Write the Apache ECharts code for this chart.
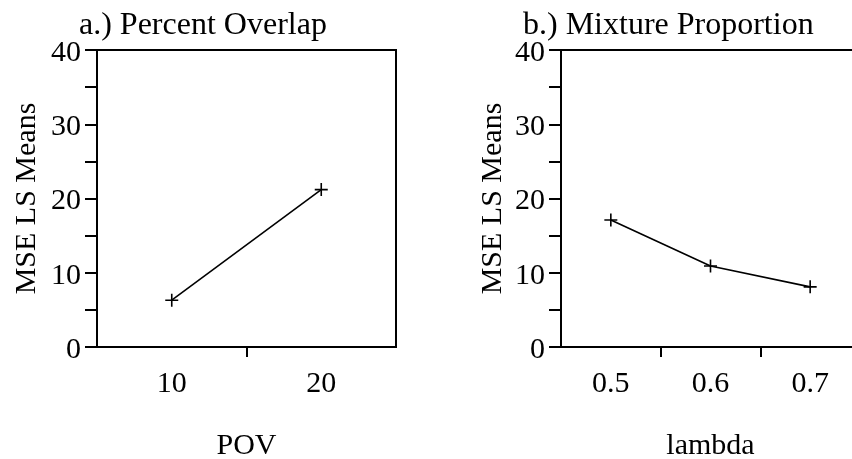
<!DOCTYPE html>
<html>
<head>
<meta charset="utf-8">
<script src="https://cdn.jsdelivr.net/npm/echarts@6/dist/echarts.min.js"></script>
<style>
html,body{margin:0;padding:0;background:#fff;}
#chart{width:852px;height:459px;}
</style>
</head>
<body>
<div id="chart"></div>
<script>
// Panel a: Percent Overlap
const povValues = [10, 20];
const povMSE = [6.3, 21.2];
const povTickLabels = [10, 20];
const povTickMarks = [15];
// Panel b: Mixture Proportion
const lambdaValues = [0.5, 0.6, 0.7];
const lambdaMSE = [17.1, 10.9, 8.1];
const lambdaTickLabels = [0.5, 0.6, 0.7];
const lambdaTickMarks = [0.55, 0.65];
// Y axis
const yTickLabels = [0, 10, 20, 30, 40];

const FONT = 'Liberation Serif';
const FS = 30;
const plusSymbol = 'path://M0,6 L12,6 M6,0 L6,12';

function xAxisCfg(gridIndex, min, max, labels, ticks, name){
  return {
    type: 'value', gridIndex, min, max, name,
    nameLocation: 'middle', nameGap: 84,
    nameTextStyle: {fontFamily: FONT, fontSize: FS, color: '#000'},
    axisLine: {show: true, onZero: false, lineStyle: {color: '#000', width: 2}},
    axisTick: {show: true, inside: false, length: 10, customValues: ticks, lineStyle: {color: '#000', width: 2}},
    axisLabel: {show: true, margin: 22, customValues: labels, fontFamily: FONT, fontSize: FS, color: '#000'},
    splitLine: {show: false}
  };
}
function yAxisCfg(gridIndex, gap){
  return {
    type: 'value', gridIndex, min: 0, max: 40, interval: 5,
    name: 'MSE LS Means', nameLocation: 'middle', nameGap: gap,
    nameTextStyle: {fontFamily: FONT, fontSize: FS, color: '#000'},
    axisLine: {show: true, lineStyle: {color: '#000', width: 2}},
    axisTick: {show: true, length: 12, lineStyle: {color: '#000', width: 2}},
    axisLabel: {margin: 16, fontFamily: FONT, fontSize: FS, color: '#000',
      formatter: v => yTickLabels.indexOf(v) >= 0 ? '{a|' + v + '}' : '',
      rich: {a: {fontFamily: FONT, fontSize: FS, color: '#000', padding: [6, 0, 0, 0]}}},
    splitLine: {show: false}
  };
}

const chart = echarts.init(document.getElementById('chart'), null, {renderer: 'canvas'});
chart.setOption({
  backgroundColor: '#fff',
  animation: false,
  title: [
    {text: 'a.) Percent Overlap', left: 74, top: 5,
     textStyle: {fontFamily: FONT, fontSize: 32, fontWeight: 'normal', color: '#000'}},
    {text: 'b.) Mixture Proportion', left: 518, top: 5,
     textStyle: {fontFamily: FONT, fontSize: 32, fontWeight: 'normal', color: '#000'}}
  ],
  grid: [
    {left: 97, top: 50, width: 299, height: 297, outerBoundsMode: 'none', containLabel: false,
     show: true, borderColor: '#000', borderWidth: 2, backgroundColor: 'transparent'},
    {left: 561, top: 50, width: 299, height: 297, outerBoundsMode: 'none', containLabel: false,
     show: true, borderColor: '#000', borderWidth: 2, backgroundColor: 'transparent'}
  ],
  xAxis: [
    xAxisCfg(0, 5, 25, povTickLabels, povTickMarks, 'POV'),
    xAxisCfg(1, 0.45, 0.75, lambdaTickLabels, lambdaTickMarks, 'lambda')
  ],
  yAxis: [yAxisCfg(0, 55), yAxisCfg(1, 53)],
  series: [
    {type: 'line', xAxisIndex: 0, yAxisIndex: 0,
     data: povValues.map((x, i) => [x, povMSE[i]]),
     symbol: plusSymbol, symbolSize: 13, showAllSymbol: true,
     lineStyle: {color: '#000', width: 1.6},
     itemStyle: {color: 'rgba(0,0,0,0)', borderColor: '#000', borderWidth: 1.6}},
    {type: 'line', xAxisIndex: 1, yAxisIndex: 1,
     data: lambdaValues.map((x, i) => [x, lambdaMSE[i]]),
     symbol: plusSymbol, symbolSize: 13, showAllSymbol: true,
     lineStyle: {color: '#000', width: 1.6},
     itemStyle: {color: 'rgba(0,0,0,0)', borderColor: '#000', borderWidth: 1.6}}
  ]
});
</script>
</body>
</html>
